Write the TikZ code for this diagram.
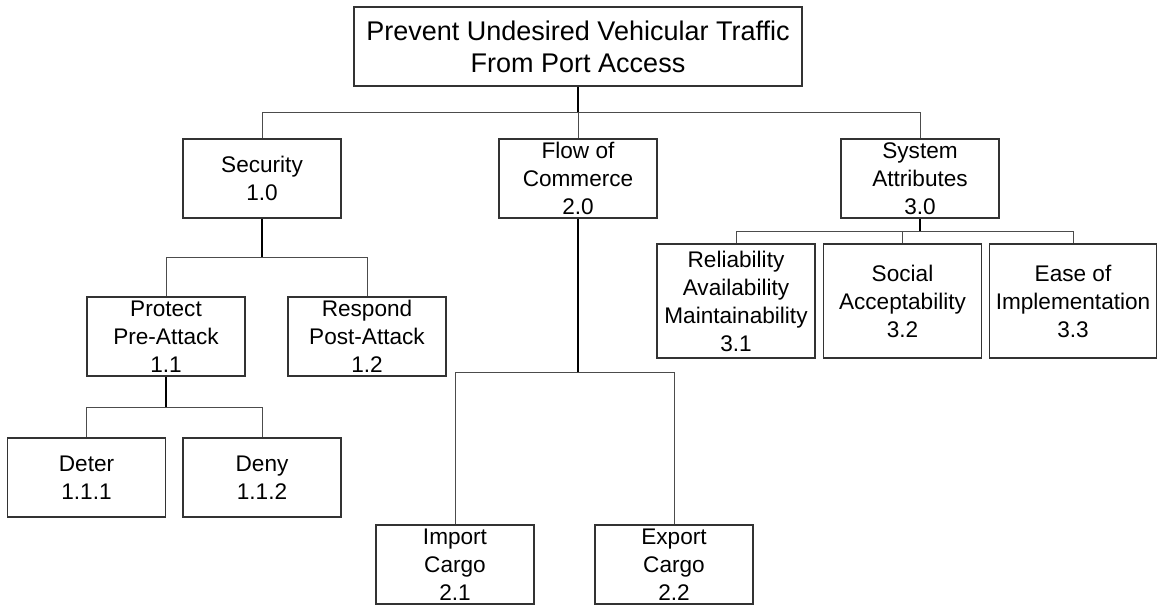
\documentclass[tikz,border=0pt]{standalone}
\usepackage{fontspec}
\setmainfont{Liberation Sans}
\usepackage{tikz}
\usetikzlibrary{calc}

\tikzset{
	blok/.style={draw=black!80,line width=1.2pt,inner sep=0pt,align=center,minimum width=158pt,minimum height=79pt,font=\fontsize{22.6}{28}\selectfont},
	tall/.style={blok,minimum height=114pt},
	bus/.style={line width=1pt,black!70},
	stem/.style={line width=1.8pt,black}
}

\begin{document}
\begin{tikzpicture}[x=1pt,y=-1pt]
			\useasboundingbox (0,0) rectangle (1159,607);
			\node[blok,minimum width=448pt,font=\fontsize{27}{32}\selectfont] (goal) at (578,46.5) {Prevent Undesired Vehicular Traffic\\From Port Access};
			\node[blok] (sec) at (262,178.5) {Security\\1.0};
			\node[blok] (flo) at (578,178.5) {Flow of\\Commerce\\2.0};
			\node[blok] (sys) at (920,178.5) {System\\Attributes\\3.0};
			\node[blok] (pro) at (166,336.5) {Protect\\Pre-Attack\\1.1};
			\node[blok] (res) at (367,336.5) {Respond\\Post-Attack\\1.2};
			\node[blok] (det) at (86.5,477.5) {Deter\\1.1.1};
			\node[blok] (den) at (262,477.5) {Deny\\1.1.2};
			\node[blok] (imp) at (455,564.5) {Import\\Cargo\\2.1};
			\node[blok] (exp) at (674,564.5) {Export\\Cargo\\2.2};
			\node[tall] (rel) at (736,301) {Reliability\\Availability\\Maintainability\\3.1};
			\node[tall] (soc) at (902.5,301) {Social\\Acceptability\\3.2};
			\node[tall,minimum width=167pt] (eas) at (1073,301) {Ease of\\Implementation\\3.3};
			\coordinate (j0) at (578,113);
			\coordinate (j1) at (262,257);
			\coordinate (j2) at (166,407);
			\coordinate (j3) at (578,372);
			\coordinate (j4) at (920,231);
			\draw[stem] (goal) -- (j0);
			\draw[bus] (j0) -| (sec);
			\draw[bus] (j0) -- (flo);
			\draw[bus] (j0) -| (sys);
			\draw[stem] (sec) -- (j1);
			\draw[bus] (j1) -| (pro);
			\draw[bus] (j1) -| (res);
			\draw[stem] (pro) -- (j2);
			\draw[bus] (j2) -| (det);
			\draw[bus] (j2) -| (den);
			\draw[stem] (flo) -- (j3);
			\draw[bus] (j3) -| (imp);
			\draw[bus] (j3) -| (exp);
			\draw[stem] (sys) -- (j4);
			\draw[bus] (j4) -| (rel);
			\draw[bus] (j4) -| (soc);
			\draw[bus] (j4) -| (eas);
		\end{tikzpicture}
\end{document}
